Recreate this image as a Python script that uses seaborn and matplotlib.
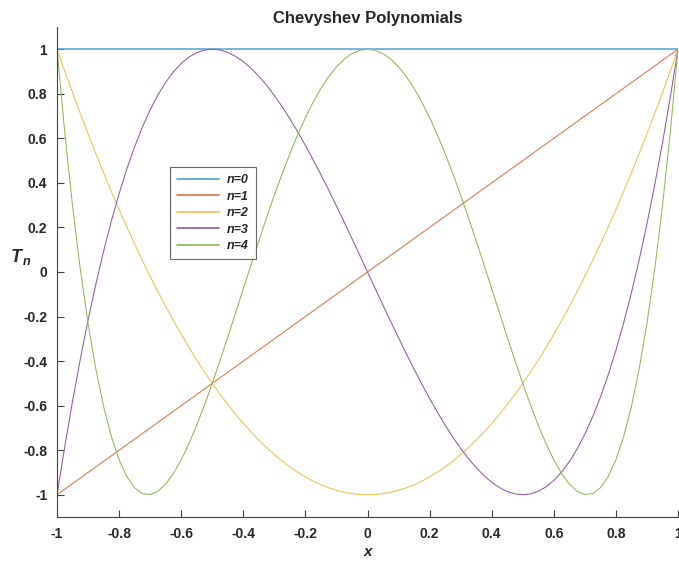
import pandas as pd
import matplotlib
matplotlib.use("Agg")
import matplotlib.pyplot as plt
import seaborn as sns

# Sample points along x, step 0.025
x_vals = [round(-1 + 0.025 * i, 3) for i in range(81)]

t0 = [1.0] * 81
t1 = list(x_vals)
t2 = [1.0, 0.90125, 0.805, 0.71125, 0.62, 0.53125, 0.445, 0.36125, 0.28, 0.20125,
      0.125, 0.05125, -0.02, -0.08875, -0.155, -0.21875, -0.28, -0.33875, -0.395, -0.44875,
      -0.5, -0.54875, -0.595, -0.63875, -0.68, -0.71875, -0.755, -0.78875, -0.82, -0.84875,
      -0.875, -0.89875, -0.92, -0.93875, -0.955, -0.96875, -0.98, -0.98875, -0.995, -0.99875,
      -1.0,
      -0.99875, -0.995, -0.98875, -0.98, -0.96875, -0.955, -0.93875, -0.92, -0.89875, -0.875,
      -0.84875, -0.82, -0.78875, -0.755, -0.71875, -0.68, -0.63875, -0.595, -0.54875, -0.5,
      -0.44875, -0.395, -0.33875, -0.28, -0.21875, -0.155, -0.08875, -0.02, 0.05125, 0.125,
      0.20125, 0.28, 0.36125, 0.445, 0.53125, 0.62, 0.71125, 0.805, 0.90125, 1.0]
t3 = [-1.0, -0.7824, -0.5795, -0.3908, -0.216, -0.0547, 0.0935, 0.2289, 0.352, 0.4631,
      0.5625, 0.6507, 0.728, 0.7948, 0.8515, 0.8984, 0.936, 0.9646, 0.9845, 0.9962,
      1.0, 0.9963, 0.9855, 0.9679, 0.944, 0.9141, 0.8785, 0.8377, 0.792, 0.7418,
      0.6875, 0.6294, 0.568, 0.5036, 0.4365, 0.3672, 0.296, 0.2233, 0.1495, 0.0749,
      0.0,
      -0.0749, -0.1495, -0.2233, -0.296, -0.3672, -0.4365, -0.5036, -0.568, -0.6294, -0.6875,
      -0.7418, -0.792, -0.8377, -0.8785, -0.9141, -0.944, -0.9679, -0.9855, -0.9963, -1.0,
      -0.9962, -0.9845, -0.9646, -0.936, -0.8984, -0.8515, -0.7948, -0.728, -0.6507, -0.5625,
      -0.4631, -0.352, -0.2289, -0.0935, 0.0547, 0.216, 0.3908, 0.5795, 0.7824, 1.0]
t4 = [1.0, 0.6245, 0.29605, 0.0118, -0.2312, -0.4355, -0.604, -0.739, -0.8432, -0.919,
      -0.96875, -0.9947, -0.9992, -0.9842, -0.95195, -0.9043, -0.8432, -0.7705, -0.68795, -0.5972,
      -0.5, -0.3977, -0.29195, -0.184, -0.0752, 0.0332, 0.14005, 0.2443, 0.3448, 0.4408,
      0.53125, 0.6155, 0.6928, 0.7625, 0.82405, 0.877, 0.9208, 0.9553, 0.98005, 0.995,
      1.0,
      0.995, 0.98005, 0.9553, 0.9208, 0.877, 0.82405, 0.7625, 0.6928, 0.6155, 0.53125,
      0.4408, 0.3448, 0.2443, 0.14005, 0.0332, -0.0752, -0.184, -0.29195, -0.3977, -0.5,
      -0.5972, -0.68795, -0.7705, -0.8432, -0.9043, -0.95195, -0.9842, -0.9992, -0.9947, -0.96875,
      -0.919, -0.8432, -0.739, -0.604, -0.4355, -0.2312, 0.0118, 0.29605, 0.6245, 1.0]

series_labels = ["n=0", "n=1", "n=2", "n=3", "n=4"]
series_values = [t0, t1, t2, t3, t4]
colors = ["#4DA3D4", "#E0714A", "#F0C04E", "#9557A3", "#8DBA55"]

tick_values = [-1, -0.8, -0.6, -0.4, -0.2, 0, 0.2, 0.4, 0.6, 0.8, 1]
tick_labels = ["-1", "-0.8", "-0.6", "-0.4", "-0.2", "0", "0.2", "0.4", "0.6", "0.8", "1"]

frames = []
for lab, vals in zip(series_labels, series_values):
    frames.append(pd.DataFrame({"x": x_vals, "T": vals, "n": lab}))
df = pd.concat(frames, ignore_index=True)

sns.set_theme(style="ticks")
plt.rcParams["font.family"] = ["Liberation Sans", "DejaVu Sans"]
plt.rcParams["mathtext.fontset"] = "custom"
plt.rcParams["mathtext.it"] = "Liberation Sans:italic:bold"
plt.rcParams["mathtext.rm"] = "Liberation Sans:bold"

fig = plt.figure(figsize=(6.79, 5.64), dpi=100)
ax = fig.add_axes([0.084, 0.0833, 0.9145, 0.869])

sns.lineplot(data=df, x="x", y="T", hue="n", palette=colors, linewidth=0.75,
             ax=ax, sort=False, estimator=None)
# the constant n=0 line reads a little heavier
ax.get_lines()[0].set_linewidth(1.1)

ax.set_xlim(-1, 1)
ax.set_ylim(-1.1, 1.1)
ax.set_xticks(tick_values)
ax.set_xticklabels(tick_labels, fontsize=10, fontweight="bold", color="#262626")
ax.set_yticks(tick_values)
ax.set_yticklabels(tick_labels, fontsize=10, fontweight="bold", color="#262626")
ax.tick_params(direction="in", length=5, width=0.8, color="#404040", pad=7)
for side in ["top", "right"]:
    ax.spines[side].set_visible(False)
for side in ["left", "bottom"]:
    ax.spines[side].set_color("#404040")
    ax.spines[side].set_linewidth(0.8)

ax.set_title("Chevyshev Polynomials", fontsize=12, fontweight="bold", pad=2.5)
ax.set_xlabel("x", fontsize=11, fontweight="bold", fontstyle="italic", labelpad=3)
ax.set_ylabel("$T_{\\,n}$", fontsize=13, rotation=0, labelpad=4, va="center")
ax.yaxis.set_label_coords(-0.058, 0.53)

leg = ax.legend(loc="upper left", bbox_to_anchor=(0.182, 0.714), frameon=True,
                fancybox=False, edgecolor="#404040", handlelength=3.35,
                handletextpad=0.64, borderpad=0.55, labelspacing=0.37,
                borderaxespad=0, fontsize=9)
leg.get_frame().set_linewidth(0.8)
for txt in leg.get_texts():
    txt.set_fontweight("bold")
    txt.set_fontstyle("italic")
for ln, c in zip(leg.get_lines(), colors):
    ln.set_linewidth(1.2)
    ln.set_color(c)

fig.savefig("out.png", dpi=100)
